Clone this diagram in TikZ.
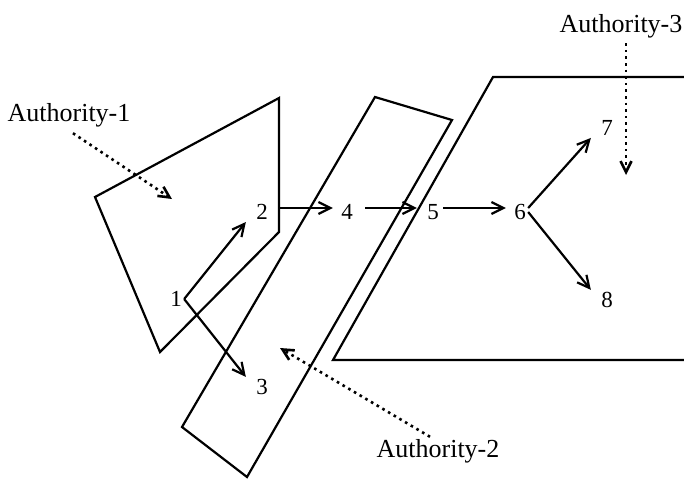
\documentclass[tikz,border=0pt]{standalone}
\usepackage{fontspec}
\setmainfont{Liberation Serif}
\usetikzlibrary{arrows.meta}

\begin{document}
\begin{tikzpicture}[x=0.5pt,y=-0.5pt,
  lbl/.style={font=\fontsize{13}{16}\selectfont,inner sep=1pt},
  num/.style={font=\fontsize{11.5}{13}\selectfont,inner sep=1pt},
  region/.style={line width=1.1pt,line join=miter},
  arr/.style={-{Straight Barb[length=6pt,width=6pt]},line width=1.1pt},
  ptr/.style={-{Straight Barb[length=5.5pt,width=5.5pt]},line width=1.3pt,dash pattern=on 1.3pt off 2pt}]
\useasboundingbox (0,0) rectangle (684,479);
% authorities
\draw[region] (95,197) -- (279,98) -- (279,232) -- (160,352) -- cycle;
\draw[region] (375,97) -- (452,120) -- (247,477) -- (182,427) -- cycle;
\draw[region] (684,77) -- (493,77) -- (333,360) -- (684,360);
% hosts
\node[num] (n1) at (176,299) {1};
\node[num] (n2) at (262,212) {2};
\node[num] (n3) at (262,387) {3};
\node[num] (n4) at (347,212) {4};
\node[num] (n5) at (433,212) {5};
\node[num] (n6) at (520,212) {6};
\node[num] (n7) at (607,128) {7};
\node[num] (n8) at (607,300) {8};
\draw[arr] (n1.east) -- ([xshift=-4pt]n2.south west);
\draw[arr] (n1.east) -- ([xshift=-4pt]n3.north west);
\draw[arr] ([xshift=5pt,yshift=2pt]n2.east) -- ([xshift=-3pt,yshift=2pt]n4.west);
\draw[arr] ([xshift=5pt,yshift=2pt]n4.east) -- ([xshift=-4pt,yshift=2pt]n5.west);
\draw[arr] ([xshift=1pt,yshift=2pt]n5.east) -- ([xshift=-3pt,yshift=2pt]n6.west);
\draw[arr] ([yshift=2pt]n6.east) -- ([xshift=-4pt]n7.south west);
\draw[arr] (n6.east) -- ([xshift=-4pt]n8.north west);
% labels
\node[lbl] (a1) at (69,115) {Authority-1};
\node[lbl] (a2) at (438,451) {Authority-2};
\node[lbl] (a3) at (621,26) {Authority-3};
\coordinate (p1) at (172,199);
\coordinate (p2) at (280,348);
\coordinate (p3) at (626,175);
\draw[ptr] ([xshift=2pt,yshift=-2pt]a1.south) -- (p1);
\draw[ptr] ([xshift=-4pt]a2.north) -- (p2);
\draw[ptr] ([xshift=2.5pt,yshift=-1.5pt]a3.south) -- (p3);
\end{tikzpicture}
\end{document}
